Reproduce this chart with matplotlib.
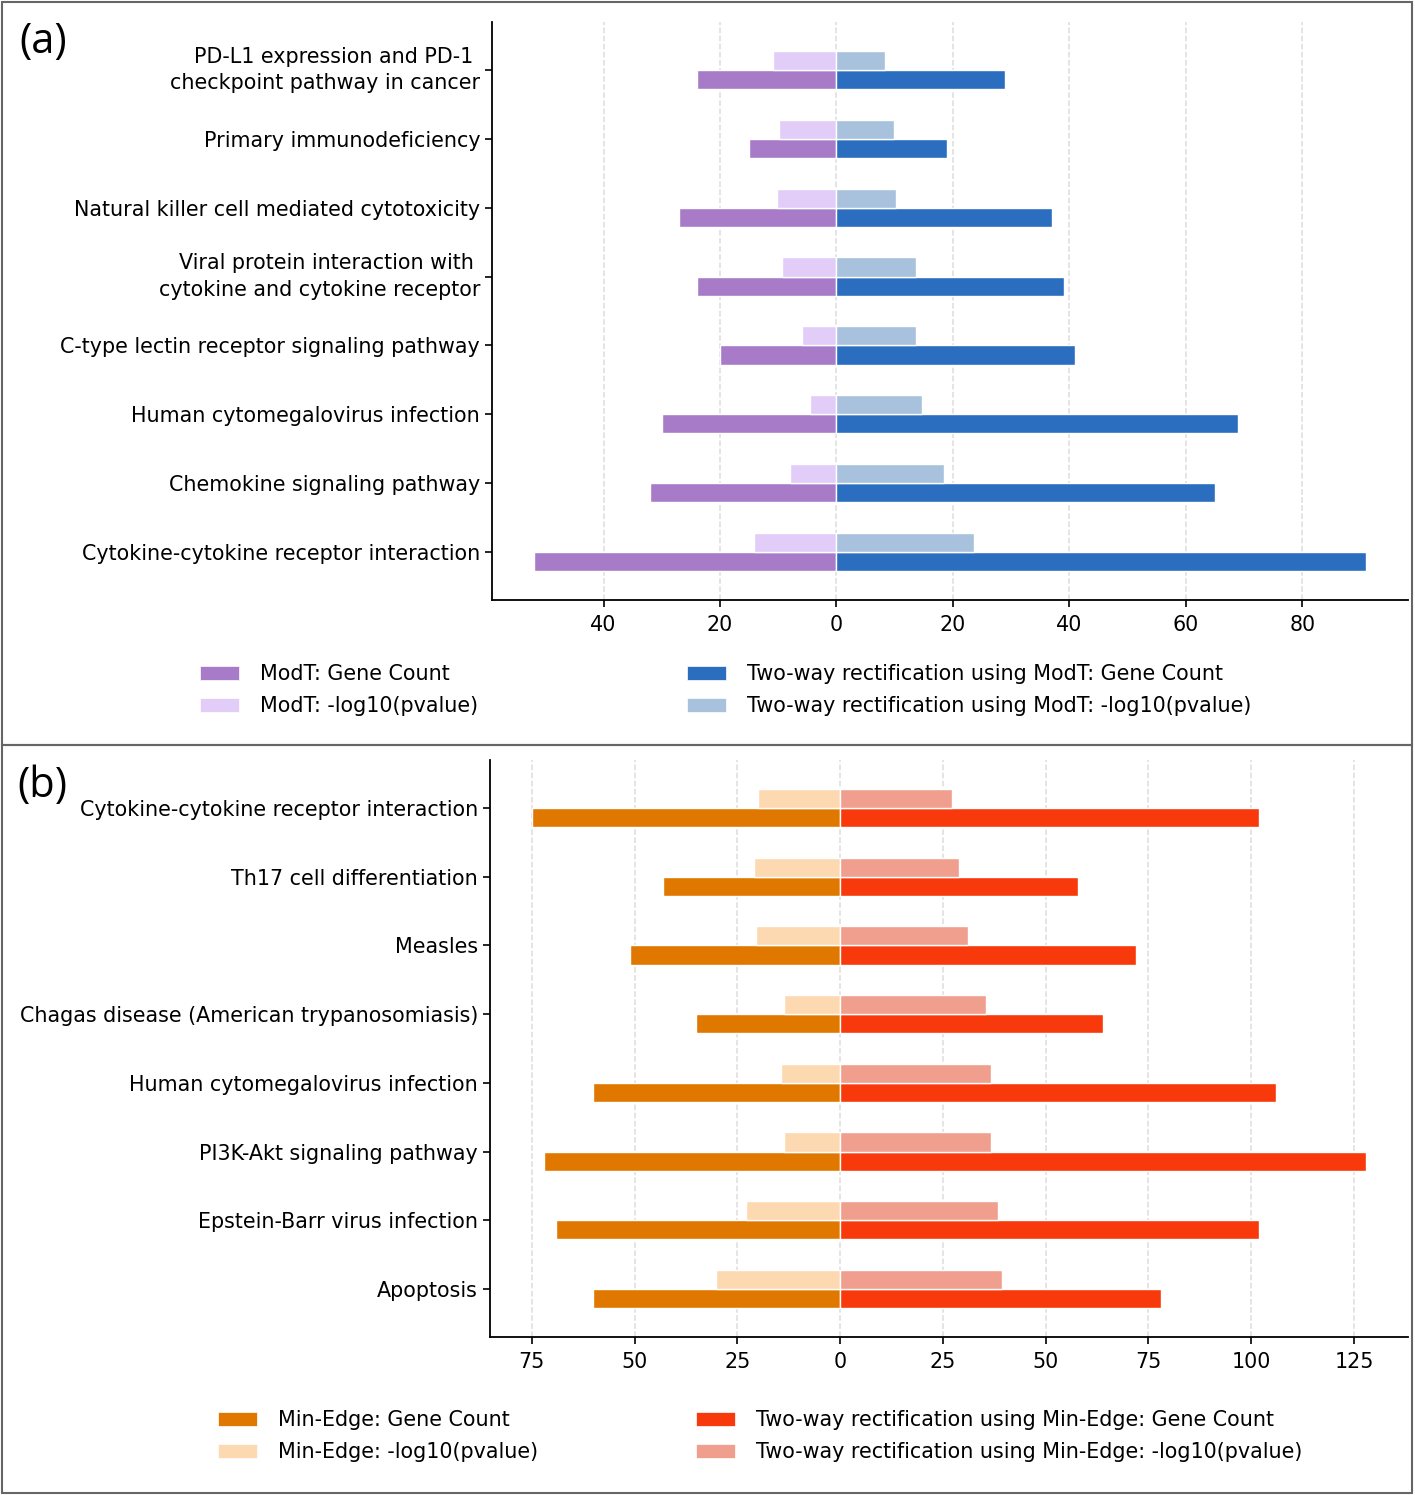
import matplotlib
matplotlib.use("Agg")
import matplotlib.pyplot as plt
import numpy as np
from matplotlib.patches import Patch, Rectangle

# panel (a)
a_terms = ["PD-L1 expression and PD-1 \ncheckpoint pathway in cancer",
           "Primary immunodeficiency",
           "Natural killer cell mediated cytotoxicity",
           "Viral protein interaction with \ncytokine and cytokine receptor",
           "C-type lectin receptor signaling pathway",
           "Human cytomegalovirus infection",
           "Chemokine signaling pathway",
           "Cytokine-cytokine receptor interaction"]
a_left_count = [24, 15, 27, 24, 20, 30, 32, 52]
a_left_logp = [10.9, 9.8, 10.2, 9.3, 5.9, 4.5, 7.9, 14.2]
a_right_count = [29, 19, 37, 39, 41, 69, 65, 91]
a_right_logp = [8.4, 9.8, 10.2, 13.6, 13.6, 14.7, 18.4, 23.6]
a_labels = ["ModT: Gene Count", "ModT: -log10(pvalue)",
            "Two-way rectification using ModT: Gene Count",
            "Two-way rectification using ModT: -log10(pvalue)"]
a_ticks = [0, 20, 40, 60, 80]

# panel (b)
b_terms = ["Cytokine-cytokine receptor interaction",
           "Th17 cell differentiation",
           "Measles",
           "Chagas disease (American trypanosomiasis)",
           "Human cytomegalovirus infection",
           "PI3K-Akt signaling pathway",
           "Epstein-Barr virus infection",
           "Apoptosis"]
b_left_count = [75, 43, 51, 35, 60, 72, 69, 60]
b_left_logp = [20.0, 21.0, 20.5, 13.7, 14.4, 13.7, 22.9, 30.2]
b_right_count = [102, 58, 72, 64, 106, 128, 102, 78]
b_right_logp = [27.3, 29.0, 31.2, 35.6, 36.8, 36.8, 38.5, 39.5]
b_labels = ["Min-Edge: Gene Count", "Min-Edge: -log10(pvalue)",
            "Two-way rectification using Min-Edge: Gene Count",
            "Two-way rectification using Min-Edge: -log10(pvalue)"]
b_ticks = [0, 25, 50, 75, 100, 125]

a_colors = ["#a77bc7", "#e2cdf8", "#2b6ec0", "#a8c1dc"]
b_colors = ["#e07800", "#fdd9b1", "#f7390b", "#f09e8e"]

FS = 14.9
W, H = 1415, 1495
fig = plt.figure(figsize=(W / 100, H / 100), dpi=100)


def panel(rect, terms, lc, lp, rc, rp, colors, ticks):
    ax = fig.add_axes(rect)
    y = np.arange(len(terms))
    h = 0.28
    kw = dict(height=h, edgecolor="white", linewidth=1)
    ax.barh(y + h / 2, -np.array(lc), color=colors[0], **kw)
    ax.barh(y - h / 2, -np.array(lp), color=colors[1], **kw)
    ax.barh(y + h / 2, rc, color=colors[2], **kw)
    ax.barh(y - h / 2, rp, color=colors[3], **kw)
    ax.set_yticks(y)
    ax.set_yticklabels(terms, fontsize=FS, linespacing=1.4)
    for lab in ax.get_yticklabels():
        if "\n" in lab.get_text():
            lab.set_verticalalignment("center")
    ax.set_ylim(len(terms) - 0.3, -0.7)
    xt = sorted(set([-t for t in ticks] + ticks))
    lo = -max(lc) - 0.05 * (max(lc) + max(rc))
    hi = max(rc) + 0.05 * (max(lc) + max(rc))
    xt = [t for t in xt if lo <= t <= hi]
    ax.set_xticks(xt)
    ax.set_xticklabels([str(abs(t)) for t in xt], fontsize=FS)
    ax.set_xlim(lo, hi)
    ax.spines["top"].set_visible(False)
    ax.spines["right"].set_visible(False)
    ax.spines["left"].set_linewidth(1.3)
    ax.spines["bottom"].set_linewidth(1.3)
    ax.tick_params(width=1.2, length=5)
    ax.tick_params(axis="x", pad=6)
    ax.set_axisbelow(True)
    ax.grid(axis="x", linestyle="--", color="#dddddd", linewidth=1.1)
    return ax


panel([492 / W, 1 - 600 / H, 916 / W, 578 / H], a_terms, a_left_count, a_left_logp,
      a_right_count, a_right_logp, a_colors, a_ticks)
panel([490 / W, 1 - 1337 / H, 918 / W, 577 / H], b_terms, b_left_count, b_left_logp,
      b_right_count, b_right_logp, b_colors, b_ticks)


def legend_col(x, y, labels, colors):
    handles = [Patch(facecolor=c, edgecolor="white", linewidth=0.5) for c in colors]
    fig.legend(handles, labels, loc="upper left", bbox_to_anchor=(x / W, 1 - y / H),
               frameon=False, fontsize=FS, borderpad=0, borderaxespad=0,
               handletextpad=1.0, labelspacing=0.6, handlelength=1.9,
               handleheight=0.7)


legend_col(200, 664, a_labels[:2], a_colors[:2])
legend_col(687, 664, a_labels[2:], a_colors[2:])
legend_col(218, 1410, b_labels[:2], b_colors[:2])
legend_col(696, 1410, b_labels[2:], b_colors[2:])

# panel frames and letters
for y0, y1 in [(2, 745), (745, 1493)]:
    fig.patches.append(Rectangle((2 / W, 1 - y1 / H), 1410 / W, (y1 - y0) / H,
                                 transform=fig.transFigure, fill=False,
                                 edgecolor="#666666", linewidth=1.5))
fig.text(19 / W, 1 - 42 / H, "(a)", fontsize=30, family="Open Sans", va="center")
fig.text(17 / W, 1 - 786 / H, "(b)", fontsize=30, family="Open Sans", va="center")

fig.savefig("out.png", dpi=100)
